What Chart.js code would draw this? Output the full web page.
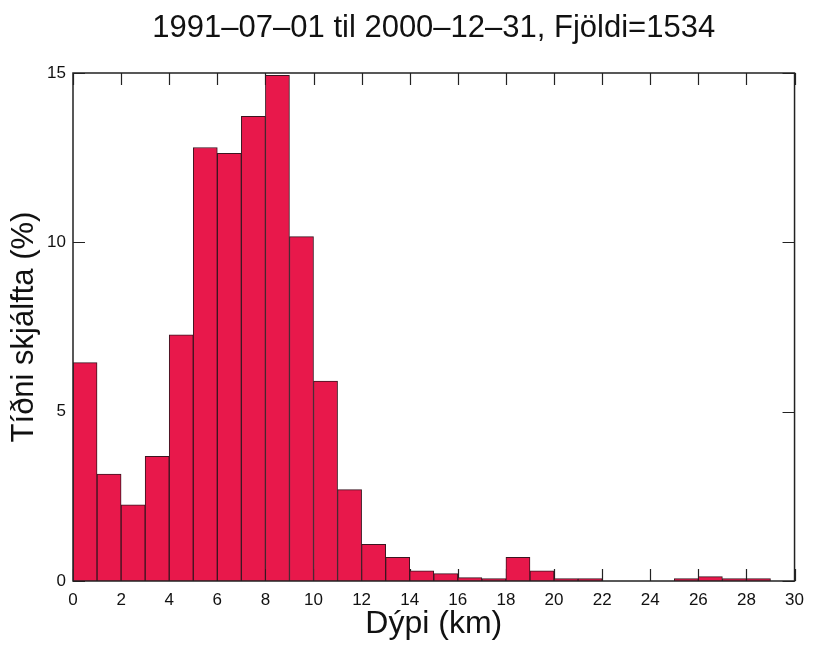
<!DOCTYPE html>
<html>
<head>
<meta charset="utf-8">
<title>Dýpi skjálfta</title>
<script src="https://cdn.jsdelivr.net/npm/chart.js@4.4.1/dist/chart.umd.min.js"></script>
<style>
  html, body { margin: 0; padding: 0; background: #fff; }
  #wrap { width: 813px; height: 647px; position: relative; }
</style>
</head>
<body>
<div id="wrap"><canvas id="hist"></canvas></div>
<script>
// depth bins (km), start of each 1 km bin
const binStart = [0, 1, 2, 3, 4, 5, 6, 7, 8, 9, 10, 11, 12, 13, 14,
                  15, 16, 17, 18, 19, 20, 21, 22, 23, 24, 25, 26, 27, 28, 29];
// share of earthquakes in each bin (%)
const percent = [6.45, 3.16, 2.25, 3.68, 7.27, 12.8, 12.63, 13.72, 14.93, 10.17,
                 5.9, 2.7, 1.08, 0.7, 0.3, 0.22, 0.1, 0.07, 0.7, 0.3,
                 0.07, 0.07, 0, 0, 0, 0.07, 0.13, 0.07, 0.07, 0];
const xTicks = [0, 2, 4, 6, 8, 10, 12, 14, 16, 18, 20, 22, 24, 26, 28, 30];
const yTicks = [0, 5, 10, 15];

const titleText = '1991–07–01 til 2000–12–31, Fjöldi=1534';
const FONT = '"Liberation Sans", Arial, Helvetica, sans-serif';

// frame, inward ticks and title
const framePlugin = {
  id: 'frame',
  beforeDatasetsDraw(chart) {
    const { ctx, chartArea: a, scales: { x, y } } = chart;
    ctx.save();
    ctx.strokeStyle = '#222';
    ctx.lineWidth = 1.2;
    ctx.beginPath();
    xTicks.forEach(v => {
      const px = Math.round(x.getPixelForValue(v)) + 0.5;
      ctx.moveTo(px, a.bottom); ctx.lineTo(px, a.bottom - 12);
      ctx.moveTo(px, a.top); ctx.lineTo(px, a.top + 12);
    });
    yTicks.forEach(v => {
      const py = Math.round(y.getPixelForValue(v)) + 0.5;
      ctx.moveTo(a.left, py); ctx.lineTo(a.left + 12, py);
      ctx.moveTo(a.right, py); ctx.lineTo(a.right - 12, py);
    });
    ctx.stroke();
    ctx.restore();
  },
  afterDraw(chart) {
    const { ctx, chartArea: a } = chart;
    ctx.save();
    ctx.strokeStyle = '#222';
    ctx.lineWidth = 1.5;
    ctx.strokeRect(a.left, a.top, a.right - a.left, a.bottom - a.top);
    ctx.fillStyle = '#111';
    ctx.font = '31px ' + FONT;
    ctx.textAlign = 'center';
    ctx.textBaseline = 'middle';
    ctx.fillText(titleText, (a.left + a.right) / 2, 28);
    ctx.restore();
  }
};

new Chart(document.getElementById('hist'), {
  type: 'bar',
  data: {
    datasets: [{
      data: binStart.map((b, i) => ({ x: b + 0.5, y: percent[i] })),
      backgroundColor: '#e8184b',
      borderColor: '#3b1520',
      borderWidth: 1,
      barPercentage: 1,
      categoryPercentage: 1
    }]
  },
  options: {
    responsive: true,
    maintainAspectRatio: false,
    animation: false,
    layout: { padding: { top: 73, right: 16, left: 0, bottom: 0 } },
    plugins: { legend: { display: false }, tooltip: { enabled: false } },
    scales: {
      x: {
        type: 'linear',
        offset: false,
        min: 0,
        max: 30,
        afterFit: s => { s.height = 66; },
        afterBuildTicks: s => { s.ticks = xTicks.map(v => ({ value: v })); },
        grid: { display: false, drawTicks: false },
        border: { display: false },
        ticks: { color: '#111', font: { family: FONT, size: 17 }, padding: 9, maxRotation: 0, autoSkip: false },
        title: { display: true, text: 'Dýpi (km)', color: '#111', font: { family: FONT, size: 32 }, padding: { bottom: 4, top: 0 } }
      },
      y: {
        min: 0,
        max: 15,
        afterFit: s => { s.width = 73; },
        afterBuildTicks: s => { s.ticks = yTicks.map(v => ({ value: v })); },
        grid: { display: false, drawTicks: false },
        border: { display: false },
        ticks: { color: '#111', font: { family: FONT, size: 17 }, padding: 7 },
        title: { display: true, text: 'Tíðni skjálfta (%)', color: '#111', font: { family: FONT, size: 31 }, padding: { top: 6, bottom: 0 } }
      }
    }
  },
  plugins: [framePlugin]
});
</script>
</body>
</html>
